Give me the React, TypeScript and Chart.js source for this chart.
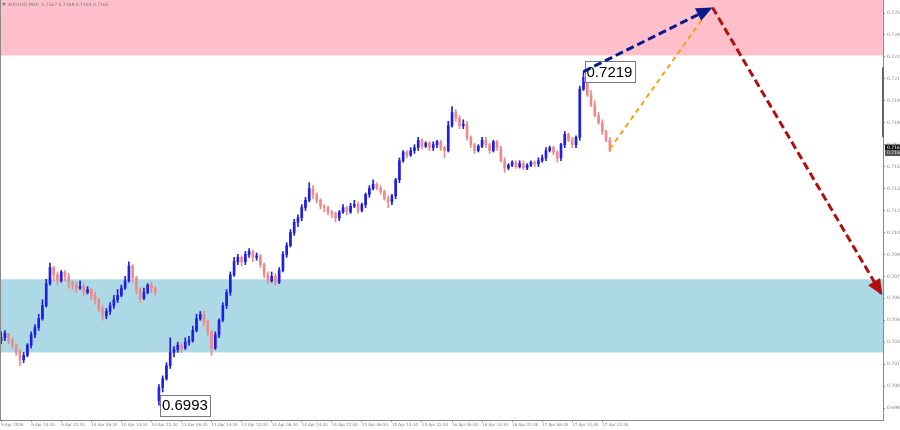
import React, { useEffect, useRef } from "react";
import { Chart, registerables } from "chart.js";

Chart.register(...registerables);

// ---- data (AUDUSD, hourly sampling of the M30 chart) ----
const opens = [
  0.7035, 0.7037, 0.7040, 0.7035, 0.7032, 0.7027, 0.7022, 0.7025, 0.7032, 0.7039,
  0.7044, 0.7050, 0.7059, 0.7074, 0.7085, 0.7080, 0.7076, 0.7082, 0.7079, 0.7075,
  0.7073, 0.7071, 0.7072, 0.7068, 0.7070, 0.7066, 0.7063, 0.7057, 0.7052, 0.7055,
  0.7059, 0.7063, 0.7066, 0.7071, 0.7076, 0.7086, 0.7078, 0.7070, 0.7064, 0.7068,
  0.7073, 0.7071, 0.6994, 0.7003, 0.7009, 0.7018, 0.7027, 0.7029, 0.7032, 0.7030,
  0.7034, 0.7035, 0.7042, 0.7050, 0.7053, 0.7048, 0.7041, 0.7030, 0.7039, 0.7049,
  0.7059, 0.7068, 0.7080, 0.7089, 0.7092, 0.7089, 0.7094, 0.7096, 0.7092, 0.7093,
  0.7087, 0.7080, 0.7076, 0.7079, 0.7075, 0.7083, 0.7094, 0.7100, 0.7109, 0.7116,
  0.7119, 0.7126, 0.7131, 0.7139, 0.7135, 0.7131, 0.7127, 0.7126, 0.7123, 0.7122,
  0.7119, 0.7123, 0.7126, 0.7123, 0.7127, 0.7128, 0.7124, 0.7128, 0.7135, 0.7139,
  0.7142, 0.7139, 0.7137, 0.7132, 0.7130, 0.7134, 0.7145, 0.7158, 0.7164, 0.7162,
  0.7165, 0.7167, 0.7172, 0.7168, 0.7170, 0.7167, 0.7169, 0.7171, 0.7167, 0.7165,
  0.7182, 0.7191, 0.7187, 0.7182, 0.7183, 0.7174, 0.7169, 0.7165, 0.7168, 0.7172,
  0.7169, 0.7165, 0.7171, 0.7167, 0.7158, 0.7153, 0.7155, 0.7157, 0.7154, 0.7156,
  0.7153, 0.7155, 0.7157, 0.7156, 0.7158, 0.7160, 0.7165, 0.7167, 0.7164, 0.7160,
  0.7169, 0.7176, 0.7172, 0.7169, 0.7174, 0.7207, 0.7215, 0.7203, 0.7196, 0.7189,
  0.7184, 0.7178, 0.7172,
];
const highs = [
  0.7041, 0.7042, 0.7040, 0.7037, 0.7033, 0.7029, 0.7027, 0.7033, 0.7041, 0.7046,
  0.7053, 0.7063, 0.7077, 0.7088, 0.7086, 0.7082, 0.7083, 0.7083, 0.7081, 0.7076,
  0.7075, 0.7076, 0.7074, 0.7072, 0.7071, 0.7068, 0.7064, 0.7059, 0.7057, 0.7061,
  0.7066, 0.7070, 0.7073, 0.7079, 0.7089, 0.7087, 0.7079, 0.7071, 0.7071, 0.7074,
  0.7075, 0.7072, 0.7005, 0.7011, 0.7020, 0.7037, 0.7031, 0.7034, 0.7033, 0.7037,
  0.7038, 0.7045, 0.7053, 0.7055, 0.7055, 0.7049, 0.7042, 0.7041, 0.7050, 0.7061,
  0.7070, 0.7082, 0.7092, 0.7094, 0.7093, 0.7096, 0.7098, 0.7097, 0.7095, 0.7094,
  0.7088, 0.7082, 0.7082, 0.7081, 0.7085, 0.7096, 0.7102, 0.7111, 0.7118, 0.7121,
  0.7128, 0.7133, 0.7143, 0.7141, 0.7136, 0.7132, 0.7128, 0.7127, 0.7124, 0.7123,
  0.7124, 0.7128, 0.7127, 0.7129, 0.7131, 0.7130, 0.7129, 0.7136, 0.7141, 0.7145,
  0.7143, 0.7141, 0.7138, 0.7134, 0.7135, 0.7146, 0.7160, 0.7165, 0.7165, 0.7167,
  0.7169, 0.7174, 0.7173, 0.7171, 0.7171, 0.7171, 0.7172, 0.7172, 0.7168, 0.7185,
  0.7195, 0.7193, 0.7189, 0.7186, 0.7185, 0.7175, 0.7170, 0.7169, 0.7174, 0.7174,
  0.7170, 0.7172, 0.7172, 0.7168, 0.7160, 0.7156, 0.7158, 0.7158, 0.7158, 0.7158,
  0.7156, 0.7158, 0.7158, 0.7160, 0.7162, 0.7167, 0.7168, 0.7168, 0.7165, 0.7170,
  0.7178, 0.7177, 0.7174, 0.7175, 0.7209, 0.7219, 0.7216, 0.7206, 0.7199, 0.7191,
  0.7186, 0.7179, 0.7174,
];
const lows = [
  0.7033, 0.7035, 0.7033, 0.7030, 0.7025, 0.7018, 0.7020, 0.7024, 0.7030, 0.7037,
  0.7042, 0.7049, 0.7058, 0.7073, 0.7076, 0.7073, 0.7075, 0.7076, 0.7071, 0.7070,
  0.7068, 0.7070, 0.7066, 0.7067, 0.7063, 0.7060, 0.7055, 0.7049, 0.7050, 0.7053,
  0.7057, 0.7061, 0.7065, 0.7070, 0.7075, 0.7075, 0.7067, 0.7061, 0.7063, 0.7067,
  0.7068, 0.7066, 0.6991, 0.7000, 0.7008, 0.7016, 0.7024, 0.7027, 0.7027, 0.7029,
  0.7032, 0.7034, 0.7041, 0.7049, 0.7045, 0.7038, 0.7025, 0.7029, 0.7037, 0.7048,
  0.7057, 0.7066, 0.7079, 0.7087, 0.7086, 0.7087, 0.7092, 0.7089, 0.7090, 0.7085,
  0.7078, 0.7074, 0.7075, 0.7073, 0.7074, 0.7082, 0.7092, 0.7099, 0.7107, 0.7113,
  0.7117, 0.7124, 0.7130, 0.7132, 0.7129, 0.7125, 0.7123, 0.7121, 0.7119, 0.7116,
  0.7117, 0.7122, 0.7121, 0.7122, 0.7126, 0.7122, 0.7123, 0.7126, 0.7133, 0.7138,
  0.7138, 0.7135, 0.7131, 0.7126, 0.7128, 0.7132, 0.7143, 0.7157, 0.7160, 0.7161,
  0.7163, 0.7165, 0.7166, 0.7167, 0.7165, 0.7165, 0.7167, 0.7165, 0.7160, 0.7164,
  0.7181, 0.7185, 0.7180, 0.7180, 0.7172, 0.7167, 0.7163, 0.7164, 0.7167, 0.7167,
  0.7163, 0.7164, 0.7165, 0.7157, 0.7150, 0.7152, 0.7154, 0.7153, 0.7153, 0.7152,
  0.7152, 0.7154, 0.7154, 0.7154, 0.7157, 0.7158, 0.7164, 0.7162, 0.7157, 0.7158,
  0.7167, 0.7171, 0.7167, 0.7167, 0.7172, 0.7206, 0.7202, 0.7195, 0.7188, 0.7183,
  0.7176, 0.7171, 0.7164,
];
const closes = [
  0.7037, 0.7040, 0.7035, 0.7032, 0.7027, 0.7022, 0.7025, 0.7032, 0.7039, 0.7044,
  0.7050, 0.7059, 0.7074, 0.7085, 0.7080, 0.7076, 0.7082, 0.7079, 0.7075, 0.7073,
  0.7071, 0.7072, 0.7068, 0.7070, 0.7066, 0.7063, 0.7057, 0.7052, 0.7055, 0.7059,
  0.7063, 0.7066, 0.7071, 0.7076, 0.7086, 0.7078, 0.7070, 0.7064, 0.7068, 0.7073,
  0.7071, 0.7068, 0.7003, 0.7009, 0.7018, 0.7027, 0.7029, 0.7032, 0.7030, 0.7034,
  0.7035, 0.7042, 0.7050, 0.7053, 0.7048, 0.7041, 0.7030, 0.7039, 0.7049, 0.7059,
  0.7068, 0.7080, 0.7089, 0.7092, 0.7089, 0.7094, 0.7096, 0.7092, 0.7093, 0.7087,
  0.7080, 0.7076, 0.7079, 0.7075, 0.7083, 0.7094, 0.7100, 0.7109, 0.7116, 0.7119,
  0.7126, 0.7131, 0.7139, 0.7135, 0.7131, 0.7127, 0.7126, 0.7123, 0.7122, 0.7119,
  0.7123, 0.7126, 0.7123, 0.7127, 0.7128, 0.7124, 0.7128, 0.7135, 0.7139, 0.7142,
  0.7139, 0.7137, 0.7132, 0.7130, 0.7134, 0.7145, 0.7158, 0.7164, 0.7162, 0.7165,
  0.7167, 0.7172, 0.7168, 0.7170, 0.7167, 0.7169, 0.7171, 0.7167, 0.7165, 0.7182,
  0.7191, 0.7187, 0.7182, 0.7183, 0.7174, 0.7169, 0.7165, 0.7168, 0.7172, 0.7169,
  0.7165, 0.7171, 0.7167, 0.7158, 0.7153, 0.7155, 0.7157, 0.7154, 0.7156, 0.7153,
  0.7155, 0.7157, 0.7156, 0.7158, 0.7160, 0.7165, 0.7167, 0.7164, 0.7160, 0.7169,
  0.7176, 0.7172, 0.7169, 0.7174, 0.7207, 0.7215, 0.7203, 0.7196, 0.7189, 0.7184,
  0.7178, 0.7172, 0.7165,
];

const xTickIndex = [0, 8, 16, 24, 32, 40, 48, 56, 64, 72, 80, 88, 96, 104, 112, 120, 128, 136, 144, 152, 160];
const xTickLabels = [
  "9 Apr 2026", "9 Apr 14:30", "9 Apr 22:30", "10 Apr 06:30", "10 Apr 14:30", "10 Apr 22:30",
  "13 Apr 06:30", "13 Apr 14:30", "13 Apr 22:30", "14 Apr 06:30", "14 Apr 14:30", "14 Apr 22:30",
  "15 Apr 06:30", "15 Apr 14:30", "15 Apr 22:30", "16 Apr 06:30", "16 Apr 14:30", "16 Apr 22:30",
  "17 Apr 06:30", "17 Apr 14:30", "17 Apr 22:30",
];
const yTickValues = [
  0.7259, 0.7244, 0.7229, 0.7214, 0.7199, 0.7184, 0.7169, 0.7154, 0.7139, 0.7124,
  0.7109, 0.7094, 0.7079, 0.7064, 0.7049, 0.7034, 0.7019, 0.7004, 0.6989,
];
const yRange = [0.69808, 0.72679];
const xRange = [-0.3, 234.7];

const resistanceZone = [0.723, 0.7268];
const supportZone = [0.7027, 0.7077];

const orangePathX = [162, 188.7];
const orangePathY = [0.7166, 0.72625];
const bluePathX = [155, 189.3];
const bluePathY = [0.7219, 0.72628];
const redPathX = [189.3, 234.5];
const redPathY = [0.72628, 0.7066];

const peakLabel = { index: 155, value: 0.7219, text: "0.7219" };
const troughLabel = { index: 42, value: 0.6991, text: "0.6993" };
const headerText = "AUDUSD,M30  0.7167 0.7168 0.7164 0.7165";
const askBid = [
  { value: 0.7168, text: "0.7168" },
  { value: 0.7165, text: "0.7165" },
];
const axisRangeBar = [0.7174, 0.7222];

const UP = "#1e1ee8";
const DOWN = "#f08a8a";
const AXIS = "#8a8a8a";
const BODY_DATASET = 3;

const drawValueBox = (chart: any, lbl: any) => {
  const { ctx, scales } = chart;
  const px = scales.x.getPixelForValue(lbl.index) + 1;
  const py = scales.y.getPixelForValue(lbl.value);
  ctx.save();
  ctx.font = "15px 'Liberation Sans'";
  const w = ctx.measureText(lbl.text).width + 4;
  const h = 21;
  ctx.fillStyle = "#ffffff";
  ctx.fillRect(px, py - h / 2, w, h);
  ctx.strokeStyle = "#7a7a7a";
  ctx.lineWidth = 1;
  ctx.strokeRect(Math.round(px) + 0.5, Math.round(py - h / 2) + 0.5, Math.round(w), h);
  ctx.fillStyle = "#000";
  ctx.textAlign = "left";
  ctx.textBaseline = "middle";
  ctx.fillText(lbl.text, px + 2, py + 1);
  ctx.restore();
};

const overlayPlugin = {
  id: "overlay",
  beforeDatasetsDraw(chart: any) {
    const { ctx, chartArea: a, scales } = chart;
    const y = scales.y;
    ctx.save();
    const zone = (z: number[], color: string) => {
      const top = Math.max(y.getPixelForValue(z[1]), a.top);
      const bot = Math.min(y.getPixelForValue(z[0]), a.bottom);
      ctx.fillStyle = color;
      ctx.fillRect(a.left + 1, top, a.right - a.left - 1, bot - top);
    };
    zone(resistanceZone, "#ffc0cb");
    zone(supportZone, "#add8e6");
    ctx.fillStyle = "#777";
    ctx.beginPath();
    ctx.moveTo(2, 3);
    ctx.lineTo(6, 3);
    ctx.lineTo(4, 6);
    ctx.closePath();
    ctx.fill();
    ctx.font = "4.5px 'DejaVu Sans'";
    ctx.textBaseline = "middle";
    ctx.textAlign = "left";
    ctx.fillText(headerText, 8, 4.5);
    ctx.restore();
  },
  afterDatasetDraw(chart: any, args: any) {
    if (args.index === BODY_DATASET) {
      drawValueBox(chart, peakLabel);
      drawValueBox(chart, troughLabel);
    }
  },
  afterDatasetsDraw(chart: any) {
    const { ctx, chartArea: a } = chart;
    ctx.save();
    chart.data.datasets.forEach((ds: any, i: number) => {
      if (!ds.arrowHead) return;
      const pts = chart.getDatasetMeta(i).data;
      const p0 = pts[pts.length - 2];
      const p1 = pts[pts.length - 1];
      const ang = Math.atan2(p1.y - p0.y, p1.x - p0.x);
      const len = 16;
      const half = 7;
      ctx.fillStyle = ds.borderColor;
      ctx.beginPath();
      ctx.moveTo(p1.x, p1.y);
      ctx.lineTo(p1.x - len * Math.cos(ang) - half * Math.sin(ang), p1.y - len * Math.sin(ang) + half * Math.cos(ang));
      ctx.lineTo(p1.x - len * Math.cos(ang) + half * Math.sin(ang), p1.y - len * Math.sin(ang) - half * Math.cos(ang));
      ctx.closePath();
      ctx.fill();
    });
    ctx.strokeStyle = AXIS;
    ctx.lineWidth = 1;
    ctx.beginPath();
    ctx.moveTo(a.left + 0.5, a.top);
    ctx.lineTo(a.left + 0.5, a.bottom);
    ctx.stroke();
    ctx.restore();
  },
  afterDraw(chart: any) {
    const { ctx, chartArea: a, scales } = chart;
    const y = scales.y;
    ctx.save();
    ctx.strokeStyle = "#666";
    ctx.lineWidth = 2;
    ctx.beginPath();
    ctx.moveTo(a.right, y.getPixelForValue(axisRangeBar[1]));
    ctx.lineTo(a.right, y.getPixelForValue(axisRangeBar[0]));
    ctx.stroke();
    const p1 = y.getPixelForValue(askBid[1].value);
    const tags = [
      { top: p1 - 6, h: 6, bg: "#111", fg: "#fff", text: askBid[0].text },
      { top: p1, h: 5.5, bg: "#555", fg: "#ddd", text: askBid[1].text },
    ];
    ctx.font = "4.5px 'DejaVu Sans'";
    ctx.textAlign = "left";
    ctx.textBaseline = "middle";
    tags.forEach((t) => {
      ctx.fillStyle = t.bg;
      ctx.fillRect(a.right + 2, t.top, 16, t.h);
      ctx.fillStyle = t.fg;
      ctx.fillText(t.text, a.right + 4, t.top + t.h / 2);
    });
    ctx.restore();
  },
};

export default function App() {
  const ref = useRef<HTMLCanvasElement | null>(null);

  useEffect(() => {
    if (!ref.current) return;
    const bodies = opens.map((o, i) => ({ x: i, y: [o, closes[i]] }));
    const wicks = lows.map((l, i) => ({ x: i, y: [l, highs[i]] }));
    const colors = closes.map((c, i) => (c >= opens[i] ? UP : DOWN));
    const pts = (xs: number[], ys: number[]) => xs.map((v, i) => ({ x: v, y: ys[i] }));

    const chart = new Chart(ref.current, {
      type: "bar",
      data: {
        datasets: [
          {
            type: "line",
            data: pts(bluePathX, bluePathY),
            borderColor: "#0a1a8c",
            borderWidth: 3,
            borderDash: [8, 4],
            pointRadius: 0,
            fill: false,
            order: 0,
            arrowHead: true,
          } as any,
          {
            type: "line",
            data: pts(redPathX, redPathY),
            borderColor: "#b01010",
            borderWidth: 3,
            borderDash: [8, 4],
            pointRadius: 0,
            fill: false,
            order: 1,
            arrowHead: true,
          } as any,
          {
            type: "line",
            data: pts(orangePathX, orangePathY),
            borderColor: "#ffa010",
            borderWidth: 2,
            borderDash: [5, 4],
            pointRadius: 0,
            fill: false,
            order: 2,
          } as any,
          {
            type: "bar",
            data: bodies as any,
            backgroundColor: colors,
            barThickness: 2,
            minBarLength: 1,
            grouped: false,
            borderWidth: 0,
            order: 3,
          } as any,
          {
            type: "bar",
            data: wicks as any,
            backgroundColor: colors,
            barThickness: 1,
            grouped: false,
            borderWidth: 0,
            order: 4,
          } as any,
        ],
      },
      options: {
        animation: false,
        responsive: false,
        maintainAspectRatio: false,
        layout: { padding: 0 },
        plugins: { legend: { display: false }, tooltip: { enabled: false } },
        scales: {
          x: {
            type: "linear",
            min: xRange[0],
            max: xRange[1],
            offset: false,
            afterBuildTicks: (s: any) => {
              s.ticks = xTickIndex.map((v) => ({ value: v }));
            },
            afterFit: (s: any) => {
              s.height = 10;
              s.paddingLeft = 0;
              s.paddingRight = 0;
              s.paddingTop = 0;
              s.paddingBottom = 0;
            },
            ticks: {
              autoSkip: false,
              maxRotation: 0,
              minRotation: 0,
              align: "start",
              padding: 1,
              color: "#808080",
              font: { size: 4, family: "'DejaVu Sans'" },
              callback: (v: any) => {
                const k = xTickIndex.indexOf(Number(v));
                return k >= 0 ? xTickLabels[k] : "";
              },
            },
            grid: { drawOnChartArea: false, offset: false, tickLength: 2, color: AXIS },
            border: { color: AXIS },
          },
          y: {
            type: "linear",
            position: "right",
            min: yRange[0],
            max: yRange[1],
            afterBuildTicks: (s: any) => {
              s.ticks = yTickValues.map((v) => ({ value: v }));
            },
            afterFit: (s: any) => {
              s.width = 17;
              s.paddingTop = 0;
              s.paddingBottom = 0;
              s.paddingLeft = 0;
              s.paddingRight = 0;
            },
            ticks: {
              padding: 2,
              color: "#808080",
              font: { size: 4.5, family: "'DejaVu Sans'" },
              callback: (v: any) => Number(v).toFixed(4),
            },
            grid: { drawOnChartArea: false, tickLength: 2, color: AXIS },
            border: { color: AXIS },
          },
        },
      } as any,
      plugins: [overlayPlugin],
    });
    return () => chart.destroy();
  }, []);

  return (
    <div style={{ position: "fixed", left: 0, top: 0, width: 900, height: 430, background: "#fff" }}>
      <canvas ref={ref} width={900} height={430} style={{ width: 900, height: 430, display: "block" }} />
    </div>
  );
}
